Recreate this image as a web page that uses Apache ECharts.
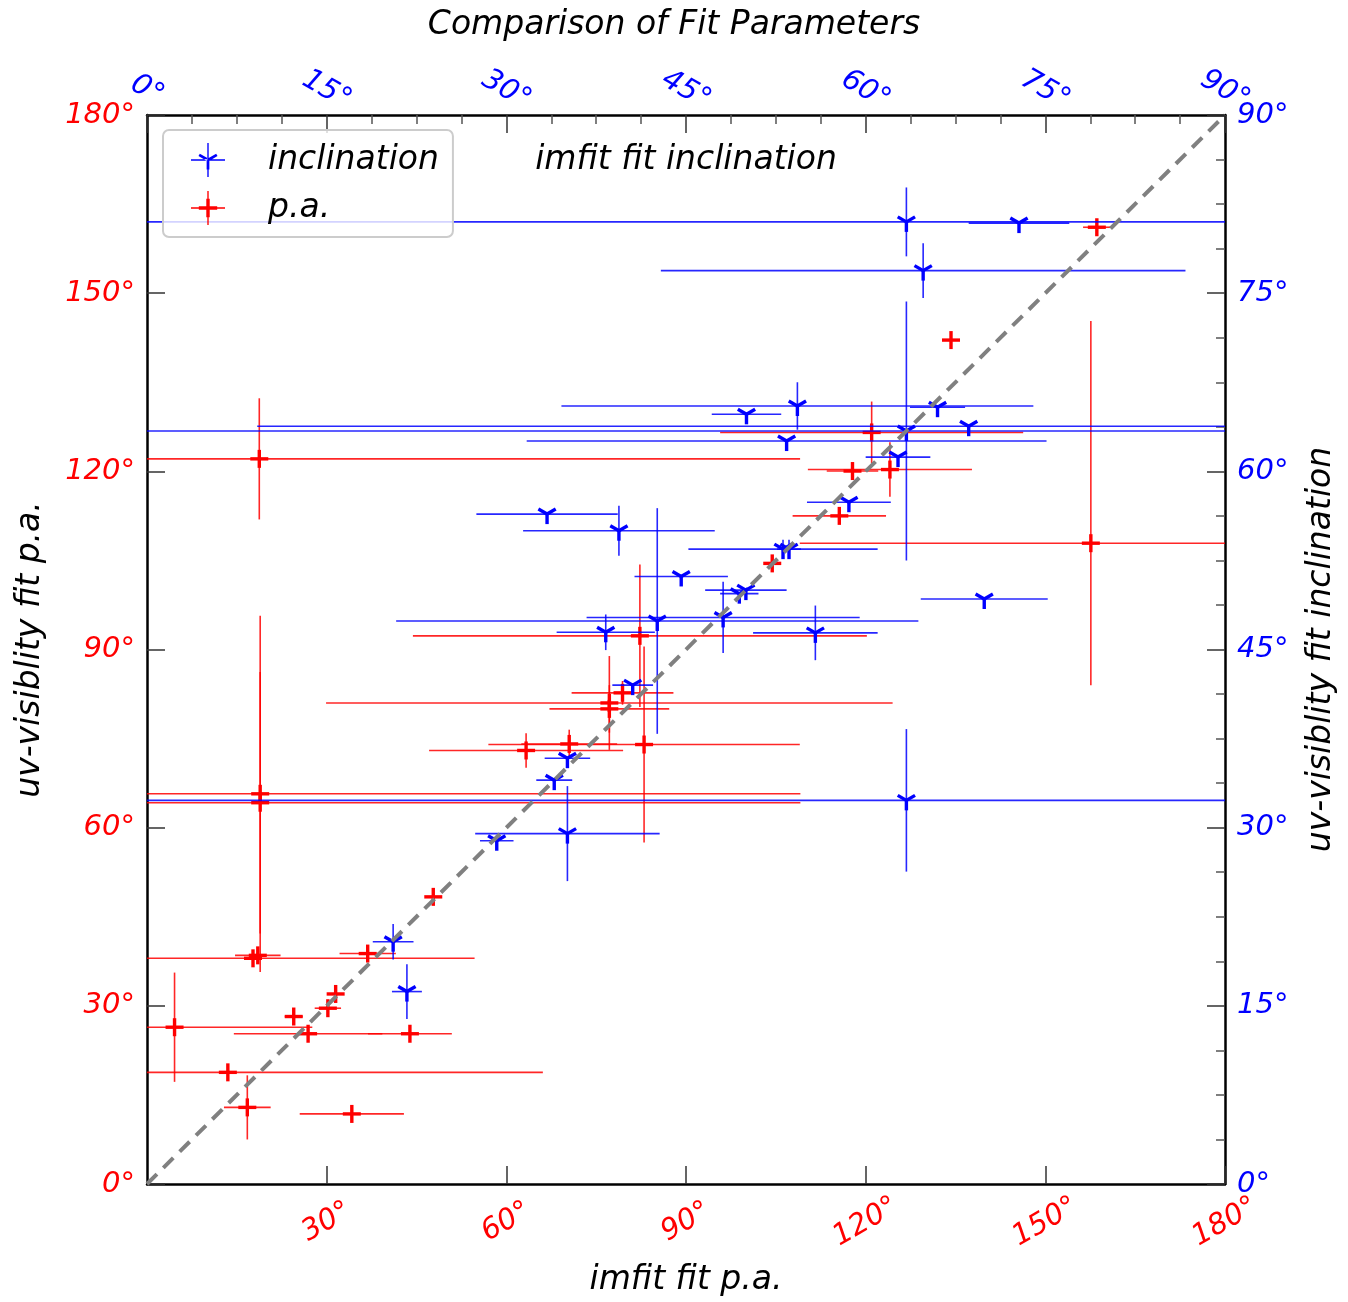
<!DOCTYPE html>
<html>
<head>
<meta charset="utf-8">
<script src="https://cdn.jsdelivr.net/npm/echarts@6/dist/echarts.min.js"></script>
<style>
html,body{margin:0;padding:0;background:#fff;}
#chart{width:1348px;height:1302px;}
</style>
</head>
<body>
<div id="chart"></div>
<script>
// ---------- DATA (degrees) ----------
// p.a. fits: imfit (x) vs uv-visibility (y); errors are number (symmetric) or [low, high]
const paX    = [18.75, 18.9, 18.9, 18.5, 17.7, 36.85, 47.8, 31.5, 30.2, 24.5, 4.6, 26.9, 43.9, 13.5, 16.75, 34.2,
                82.3, 83.0, 77.2, 77.2, 79.4, 115.6, 104.4, 117.8, 124.05, 121.0, 158.6, 134.25, 157.6, 63.3, 70.5];
const paY    = [122.1, 65.7, 64.2, 38.5, 38.0, 38.8, 48.35, 32.0, 29.6, 28.2, 26.4, 25.3, 25.3, 18.8, 12.9, 11.8,
                92.3, 74.0, 81.0, 80.0, 82.7, 112.5, 104.5, 120.05, 120.3, 126.55, 161.1, 142.1, 107.9, 73.0, 74.1];
const paXErr = [90.3, 90.2, 90.2, 3.8, 37, 4.7, 0, 0, 2.2, 1.5, 23, 12.4, 7, 52.6, 3.9, 8.7,
                37.9, 26, 47.3, 10, 8.5, 7.8, 0, 4.3, 13.7, 25.3, 2.3, 0, 48.6, 16.2, 8];
const paYErr = [10.2, 30, 22, 0, 0, 0, 0, 0, 0, 0, 9.2, 0, 0, 0, 5.4, 0,
                12, 16.5, 7.9, 4, 2, 0, 0, 0, 4.6, 5.2, 0, 0, [23.9, 37.4], 2.9, 2.4];

// inclination fits: imfit (x, top axis) vs uv-visibility (y, right axis)
const incX    = [63.4, 72.8, 64.8, 54.3, 50.05, 53.4, 63.4, 68.6, 66.0, 62.7, 33.4, 39.4, 42.6, 48.1, 44.6, 49.45,
                 50.0, 53.1, 53.6, 58.6, 38.3, 55.8, 40.55, 35.1, 34.0, 35.1, 63.4, 69.9, 20.55, 21.7, 29.2];
const incY    = [81.0, 80.9, 76.9, 65.5, 64.8, 62.55, 63.4, 63.8, 65.4, 61.2, 56.4, 55.0, 47.4, 47.7, 51.15, 49.7,
                 50.0, 53.45, 53.45, 57.4, 46.45, 46.4, 42.0, 35.85, 34.0, 29.5, 32.3, 49.25, 20.4, 16.2, 28.9];
const incXErr = [70, 4.2, 21.9, 19.7, 2.9, 21.7, 70, 59.4, 2.3, 2.7, 5.9, 8.0, 21.8, 11.4, 3.9, 1.6,
                 3.4, 7.9, 1, 3.5, 4.1, 5.2, 1.7, 1.9, 1.5, 7.7, 70, 5.3, 1.7, 1.25, 1.4];
const incYErr = [2.9, 0, 2.3, 2.0, 0, 0, 10.9, 0, 0, 0, 0, 2.1, 9.5, 3.0, 0, 0,
                 0, 0.8, 0.8, 0, 1.5, 2.3, 0, 0, 0, 4.0, 6.0, 0, 1.5, 2.3, 0];

// axes
const paRange = [0, 180], paStep = 30;
const incRange = [0, 90], incStep = 15;
const oneToOne = [[0, 0], [180, 180]];

// ---------- BUILD ----------
function errPair(e){ return Array.isArray(e) ? e : [e, e]; }
function build(xs, ys, xe, ye){
  return xs.map((x, i) => {
    const ex = errPair(xe[i]), ey = errPair(ye[i]);
    return [x, ys[i], ex[0], ex[1], ey[0], ey[1]];
  });
}
const paData = build(paX, paY, paXErr, paYErr);
const incData = build(incX, incY, incXErr, incYErr);

function makeRender(color, kind){
  return function(params, api){
    const cs = params.coordSys;
    const cx = v => Math.max(cs.x, Math.min(cs.x + cs.width, v));
    const cy = v => Math.max(cs.y, Math.min(cs.y + cs.height, v));
    const x = api.value(0), y = api.value(1);
    const c = api.coord([x, y]);
    const l = api.coord([x - api.value(2), y]);
    const r = api.coord([x + api.value(3), y]);
    const b = api.coord([x, y - api.value(4)]);
    const t = api.coord([x, y + api.value(5)]);
    const errStyle = {stroke: color, lineWidth: 1.6, opacity: 0.85};
    const mk = {stroke: color, lineWidth: 3.4};
    const ch = [
      {type: 'line', shape: {x1: cx(l[0]), y1: c[1], x2: cx(r[0]), y2: c[1]}, style: errStyle},
      {type: 'line', shape: {x1: c[0], y1: cy(b[1]), x2: c[0], y2: cy(t[1])}, style: errStyle}
    ];
    if (kind === 'plus'){
      const s = 9;
      ch.push({type: 'line', shape: {x1: c[0]-s, y1: c[1], x2: c[0]+s, y2: c[1]}, style: mk});
      ch.push({type: 'line', shape: {x1: c[0], y1: c[1]-s, x2: c[0], y2: c[1]+s}, style: mk});
    } else {
      const s = 10;
      ch.push({type: 'line', shape: {x1: c[0], y1: c[1], x2: c[0], y2: c[1]+s}, style: mk});
      ch.push({type: 'line', shape: {x1: c[0], y1: c[1], x2: c[0]-0.866*s, y2: c[1]-0.5*s}, style: mk});
      ch.push({type: 'line', shape: {x1: c[0], y1: c[1], x2: c[0]+0.866*s, y2: c[1]-0.5*s}, style: mk});
    }
    return {type: 'group', children: ch};
  };
}

const FONT = 'DejaVu Sans';
const RED = '#ff0000', BLUE = '#0000ff';
const tickLabel = (color) => ({
  color: color, fontFamily: FONT, fontStyle: 'italic', fontSize: 29,
  formatter: v => v + '°'
});

const iconInc = 'path://M0,48L100,48L100,52L0,52Z M48,0L52,0L52,100L48,100Z M46,50L54,50L54,78L46,78Z M52,46.5L26,31.5L22,38.5L48,53.5Z M48,46.5L74,31.5L78,38.5L52,53.5Z';
const iconPa = 'path://M0,48L100,48L100,52L0,52Z M48,0L52,0L52,100L48,100Z M23,45L77,45L77,55L23,55Z M45,23L55,23L55,77L45,77Z';

const option = {
  backgroundColor: '#fff',
  animation: false,
  title: {
    text: 'Comparison of Fit Parameters', left: 'center', top: 4,
    textStyle: {fontFamily: FONT, fontStyle: 'italic', fontWeight: 'normal', fontSize: 33, color: '#000'}
  },
  legend: {
    orient: 'vertical', left: 163, top: 130,
    padding: [13, 14, 12, 28], itemGap: 14, itemWidth: 34, itemHeight: 34,
    borderColor: '#cccccc', borderWidth: 2, borderRadius: 6,
    backgroundColor: 'rgba(255,255,255,0.8)',
    textStyle: {fontFamily: FONT, fontStyle: 'italic', fontSize: 33, color: '#000', padding: [0, 0, 0, 38]},
    data: [{name: 'inclination', icon: iconInc}, {name: 'p.a.', icon: iconPa}]
  },
  grid: {left: 147, right: 123, top: 115, bottom: 116, containLabel: false},
  xAxis: [
    {
      type: 'value', position: 'bottom', min: paRange[0], max: paRange[1], interval: paStep,
      name: 'imfit fit p.a.', nameLocation: 'middle', nameGap: 80,
      nameTextStyle: {fontFamily: FONT, fontStyle: 'italic', fontSize: 33, color: '#000'},
      axisLine: {onZero: false, lineStyle: {color: '#000', width: 2.5}},
      axisTick: {inside: true, length: 18, lineStyle: {color: '#333', width: 1.5}},
      axisLabel: Object.assign(tickLabel(RED), {rotate: 30, align: 'center', verticalAlign: 'middle', margin: 38, showMinLabel: false}),
      splitLine: {show: false}
    },
    {
      type: 'value', position: 'top', min: incRange[0], max: incRange[1], interval: incStep,
      name: 'imfit fit inclination', nameLocation: 'middle', nameGap: -62,
      nameTextStyle: {fontFamily: FONT, fontStyle: 'italic', fontSize: 33, color: '#000'},
      axisLine: {onZero: false, lineStyle: {color: '#000', width: 2.5}},
      axisTick: {inside: true, length: 18, lineStyle: {color: '#333', width: 1.5}},
      minorTick: {show: true, splitNumber: 4, length: 9, lineStyle: {color: '#555', width: 1.5}},
      axisLabel: Object.assign(tickLabel(BLUE), {rotate: 30, align: 'center', verticalAlign: 'middle', margin: 25}),
      splitLine: {show: false}, minorSplitLine: {show: false}
    }
  ],
  yAxis: [
    {
      type: 'value', position: 'left', min: paRange[0], max: paRange[1], interval: paStep,
      name: 'uv-visiblity fit p.a.', nameLocation: 'middle', nameGap: 100, nameRotate: 90,
      nameTextStyle: {fontFamily: FONT, fontStyle: 'italic', fontSize: 33, color: '#000'},
      axisLine: {onZero: false, lineStyle: {color: '#000', width: 2.5}},
      axisTick: {inside: true, length: 18, lineStyle: {color: '#333', width: 1.5}},
      axisLabel: Object.assign(tickLabel(RED), {margin: 12}),
      splitLine: {show: false}
    },
    {
      type: 'value', position: 'right', min: incRange[0], max: incRange[1], interval: incStep,
      name: 'uv-visiblity fit inclination', nameLocation: 'middle', nameGap: 80, nameRotate: 90,
      nameTextStyle: {fontFamily: FONT, fontStyle: 'italic', fontSize: 33, color: '#000'},
      axisLine: {onZero: false, lineStyle: {color: '#000', width: 2.5}},
      axisTick: {inside: true, length: 18, lineStyle: {color: '#333', width: 1.5}},
      minorTick: {show: true, splitNumber: 4, length: 9, lineStyle: {color: '#555', width: 1.5}},
      axisLabel: Object.assign(tickLabel(BLUE), {margin: 12}),
      splitLine: {show: false}, minorSplitLine: {show: false}
    }
  ],
  series: [
    {
      name: 'p.a.', type: 'custom', xAxisIndex: 0, yAxisIndex: 0,
      itemStyle: {color: RED}, encode: {x: 0, y: 1},
      renderItem: makeRender(RED, 'plus'), data: paData, z: 2
    },
    {
      name: 'inclination', type: 'custom', xAxisIndex: 1, yAxisIndex: 1,
      itemStyle: {color: BLUE}, encode: {x: 0, y: 1},
      renderItem: makeRender(BLUE, 'tri'), data: incData, z: 3
    },
    {
      name: 'one-to-one', type: 'line', xAxisIndex: 0, yAxisIndex: 0,
      data: oneToOne, symbol: 'none', silent: true, z: 4,
      lineStyle: {color: '#808080', width: 4, type: [14, 9]}
    }
  ]
};

const chart = echarts.init(document.getElementById('chart'), null, {renderer: 'canvas'});
chart.setOption(option);
</script>
</body>
</html>
